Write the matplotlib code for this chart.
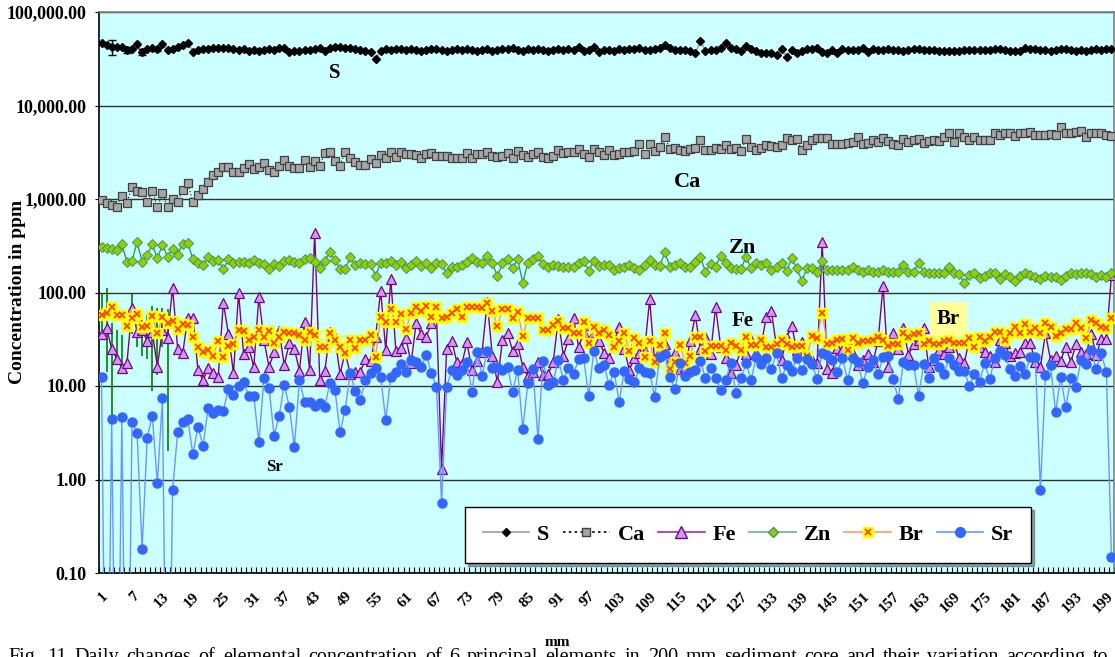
import numpy as np
import matplotlib.pyplot as plt
from matplotlib.lines import Line2D
from matplotlib.legend_handler import HandlerTuple
from matplotlib.ticker import FixedLocator, FuncFormatter, NullLocator

plt.rcParams['font.family'] = ['Liberation Serif', 'DejaVu Serif']

mm = np.arange(1, 201)

S = [47000, 44400, 42500, 42500, 41800, 39300, 39900, 45100, 37600, 39900,
     40800, 39900, 45100, 39300, 39900, 42500, 44400, 46300, 37600, 39300,
     39900, 40200, 40800, 41500, 41500, 40800, 39900, 39300, 39900, 38600,
     39300, 38600, 39300, 39900, 39300, 40800, 41500, 37600, 38600, 38600,
     39300, 39300, 39900, 40800, 38600, 40800, 42500, 42500, 41500, 40800,
     39900, 39300, 38600, 37600, 31200, 38600, 39900, 39300, 39900, 40200,
     39300, 39900, 39300, 38600, 39300, 39900, 40200, 39300, 38600, 39300,
     39900, 39300, 39900, 39300, 38600, 39300, 39900, 38600, 39300, 39900,
     40200, 41500, 39300, 38600, 39900, 39300, 39900, 39300, 38600, 39300,
     39900, 39300, 39900, 39300, 42500, 38600, 39300, 42500, 37600, 39300,
     39300, 38600, 39900, 39300, 40200, 39900, 41500, 39300, 39300, 39900,
     40800, 44400, 41500, 39300, 39300, 39300, 38600, 36100, 49300, 38600,
     39300, 39300, 41500, 46300, 41500, 39900, 38600, 43300, 39900, 38600,
     36100, 36100, 36100, 34700, 39900, 33300, 39300, 36100, 38600, 39900,
     40200, 40800, 37600, 36700, 39300, 36100, 40200, 39300, 39300, 39300,
     41500, 37600, 39900, 39300, 39300, 39900, 39300, 39300, 38600, 39300,
     39900, 40200, 39300, 39300, 39300, 38600, 38600, 38600, 38600, 38600,
     39300, 39300, 39300, 39300, 39300, 39300, 39900, 39900, 39300, 38600,
     38600, 38600, 40800, 39900, 39900, 39300, 39300, 38600, 39300, 39900,
     40200, 39300, 38600, 39300, 38600, 39300, 39900, 39300, 39900, 39900]

Ca = [975, 900, 863, 815, 1085, 912, 1355, 1230, 1180, 930,
      1220, 815, 1150, 830, 990, 930, 1250, 1470, 925, 1105,
      1270, 1520, 1790, 1945, 2210, 2210, 1960, 1960, 2130, 2365,
      2080, 2210, 2440, 2060, 1945, 2240, 2610, 2280, 2170, 2170,
      2610, 2210, 2520, 2280, 3080, 3180, 2520, 2280, 3180, 2720,
      2500, 2330, 2330, 2650, 2410, 2960, 2720, 3210, 2790, 3210,
      3030, 3030, 2960, 2720, 3030, 3130, 2900, 2900, 2900, 2770,
      2720, 2770, 3080, 2770, 3030, 3000, 3210, 2880, 2840, 2880,
      3080, 2720, 3290, 2960, 2840, 3030, 3210, 2840, 2770, 2900,
      3340, 3130, 3160, 3160, 3430, 3030, 2790, 3400, 3210, 2960,
      3340, 2960, 3030, 3160, 3210, 3290, 3880, 3030, 3880, 3290,
      3630, 4570, 3400, 3540, 3340, 3290, 3430, 3480, 4280, 3340,
      3340, 3480, 3430, 3810, 3430, 3480, 3290, 4350, 3630, 3340,
      3480, 3780, 3720, 3630, 3780, 4460, 4280, 4350, 3340, 3780,
      4280, 4460, 4460, 4460, 3880, 3880, 3880, 4010, 4100, 4650,
      3880, 4010, 4280, 4100, 4460, 4210, 3880, 3780, 4350, 4100,
      4280, 4350, 4010, 4210, 4280, 4210, 4570, 5050, 4100, 5050,
      4570, 4280, 4650, 4280, 4280, 4280, 5050, 4830, 5130, 5050,
      4720, 5130, 5050, 5260, 4830, 4830, 4830, 4960, 4830, 5930,
      5050, 5050, 5260, 5390, 4570, 5130, 5050, 5130, 4830, 4720]

Fe = [36, 42, 25, 19.5, 15.7, 17.5, 68, 38, 40, 30,
      38, 16, 40, 33, 113, 25, 22.4, 54, 54, 14.8,
      11.6, 15.5, 13.7, 12.6, 78, 36, 13.7, 100, 21.8, 26,
      16, 90, 31, 16, 23, 39, 16.8, 28.6, 25, 14.6,
      48.8, 14.8, 437, 11.6, 14.6, 37.8, 32.6, 13.5, 23, 13.5,
      14.2, 14.1, 19.5, 18.7, 33.7, 105, 24.3, 139, 23.7, 25.3,
      32.3, 17.5, 47.5, 36, 33.7, 46.8, 60, 1.29, 24.7, 30.3,
      18.1, 17.2, 29.3, 14.8, 18.7, 23.3, 80, 21, 11, 31,
      37, 23.7, 27.9, 16.1, 12.8, 14.2, 18.2, 13.1, 13.4, 18,
      52, 21, 31.6, 53, 26.3, 36.5, 44.9, 38, 30.3, 22.7,
      19.8, 30, 43, 25, 14.8, 20, 22.7, 23.9, 84.5, 18,
      24, 28, 19, 22.7, 15.3, 16.1, 30, 57, 25, 33.7,
      21.8, 70, 26.3, 20, 13.7, 16.8, 24.3, 21.8, 31, 22.7,
      28, 55, 63, 26, 19, 33, 43.8, 24, 29.9, 22,
      19, 17.5, 349, 15.3, 13.9, 25.3, 24.3, 29.9, 22, 16.8,
      19, 22, 18, 30, 118, 15.8, 36.5, 25, 42, 21.5,
      28, 31, 42, 15.8, 19, 24, 22, 26.3, 28.6, 19.8,
      17.5, 32.3, 28, 26.3, 23.3, 20.7, 18.2, 31, 28.6, 20.7,
      22.7, 23.3, 29, 29, 18, 16.1, 36.5, 19, 20.7, 18.7,
      26.3, 18, 27.9, 23.3, 22, 36, 21.5, 31.6, 31.6, 154]

Zn = [309, 302, 290, 285, 328, 214, 219, 344, 214, 252,
      328, 232, 325, 242, 292, 252, 333, 342, 226, 208,
      197, 237, 218, 222, 177, 226, 205, 214, 212, 209,
      222, 205, 201, 180, 203, 193, 218, 222, 211, 208,
      229, 235, 211, 185, 218, 269, 222, 179, 179, 237,
      197, 205, 202, 202, 150, 208, 208, 217, 197, 214,
      181, 197, 219, 192, 205, 181, 205, 202, 160, 189,
      189, 197, 214, 232, 214, 208, 246, 205, 150, 205,
      226, 184, 226, 127, 208, 226, 246, 202, 189, 197,
      192, 189, 189, 189, 205, 219, 171, 219, 192, 197,
      197, 174, 181, 189, 197, 181, 174, 197, 222, 197,
      192, 269, 189, 197, 205, 189, 189, 214, 242, 166,
      202, 189, 248, 208, 181, 177, 177, 242, 181, 205,
      197, 208, 174, 189, 205, 170, 232, 181, 134, 181,
      181, 167, 217, 174, 174, 172, 174, 172, 186, 172,
      167, 174, 167, 167, 174, 167, 167, 167, 197, 167,
      167, 205, 167, 163, 163, 160, 163, 186, 160, 158,
      125, 154, 160, 142, 150, 160, 163, 138, 158, 146,
      134, 150, 160, 154, 146, 138, 150, 146, 148, 137,
      150, 163, 158, 163, 163, 158, 146, 154, 148, 163]

Br = [57, 61, 69.5, 57, 58, 43.8, 53, 58.5, 43, 43.8,
      55.5, 36.5, 54.8, 47.5, 50, 40.4, 46, 44.9, 33.2, 26,
      23.3, 24.3, 21.1, 30, 20.6, 26.8, 28, 39.4, 38.7, 31,
      33.7, 39.7, 33.2, 39, 29, 33.2, 38, 36.5, 37, 35,
      31, 38, 35, 26.3, 26.3, 37, 31, 26, 22.7, 31,
      25.7, 31, 31, 34.8, 20.3, 54.3, 48.7, 66, 48.7, 58.9,
      40.4, 61, 69.5, 64, 71.8, 54.3, 70.5, 53, 54.3, 60,
      66, 54.3, 70.5, 69.5, 69.5, 67.8, 77.8, 64, 43.8, 66,
      66, 53.8, 62.3, 34.3, 53, 53, 53, 39.7, 39.7, 44.9,
      50, 41.4, 42, 37, 37, 48.7, 29, 43, 36.5, 39.7,
      35, 26.3, 30, 37, 23.9, 32.9, 28.6, 20.3, 30, 18,
      27.4, 36.5, 15.3, 18.2, 27.4, 17.5, 21, 33.2, 33.7, 23.9,
      26.6, 26.6, 26.6, 24.3, 29, 26.6, 24.3, 33.7, 27.4, 27.4,
      31, 26.3, 26.3, 28, 31, 28, 26, 26.6, 26.6, 20.7,
      34.3, 32.5, 61, 28, 29, 31, 31.6, 24.3, 32.5, 29,
      30, 30, 31, 33.2, 31, 26.6, 28, 28, 36.5, 33.2,
      36, 36.5, 28, 30, 28, 28, 30, 31, 29, 29,
      29, 32.5, 26.3, 33.2, 30, 33.2, 38, 38, 31, 36.5,
      43, 37, 46, 38, 41.4, 36.5, 47.5, 43, 34.3, 37,
      40.4, 40.4, 46.8, 41.4, 32.5, 50.8, 47.5, 43, 41.4, 53]

# readings below detection are stored as 1e-4 and fall off the log axis
Sr = [12.4, 1e-4, 4.43, 1e-4, 4.7, 1e-4, 4.1, 3.16, 0.18, 2.8,
      4.8, 0.91, 7.4, 1e-4, 0.77, 3.2, 4.15, 4.4, 1.86, 3.67,
      2.28, 5.86, 5.1, 5.5, 5.45, 9.4, 7.95, 10, 11.1, 7.8,
      7.8, 2.5, 12.1, 9.6, 2.94, 4.8, 10.3, 6.0, 2.24, 11.6,
      6.8, 6.8, 6.1, 6.6, 6.0, 10.8, 9.05, 3.2, 5.6, 13.7,
      8.85, 7.1, 11.6, 13.7, 15.5, 12.6, 4.33, 12.6, 14.2, 17.2,
      14.2, 19, 18.2, 16.1, 21.5, 13.7, 9.7, 0.56, 9.7, 14.8,
      13.1, 14.8, 17.9, 8.7, 22.9, 12.8, 23.9, 15.5, 16.1, 14.8,
      16.1, 8.7, 14.8, 3.47, 10.7, 15.1, 2.71, 18.5, 10.3, 11.1,
      19, 11.6, 15.5, 13.4, 19.3, 19.8, 7.8, 23.9, 15.5, 16.8,
      10.3, 14.2, 6.7, 14.6, 11.8, 11.1, 15.5, 14.2, 13.9, 7.7,
      20.6, 22, 12.6, 9.2, 17.8, 12.9, 14.2, 14.8, 18.7, 12.1,
      15.7, 12.1, 9.05, 11.6, 17.8, 8.5, 12.1, 17.5, 11.6, 20.6,
      17.1, 19.8, 15.1, 22.7, 12.1, 16.8, 14.5, 19.8, 14.8, 19.3,
      17.2, 11.8, 22.7, 21.5, 19, 14, 19.8, 11.6, 19.8, 18.2,
      10.7, 16.1, 19, 13.4, 20.6, 21.1, 11.9, 7.2, 17.9, 16.8,
      16.8, 7.8, 17.2, 12.1, 20.1, 15.8, 13.3, 20.1, 16.8, 14.5,
      14.5, 10, 13.4, 11, 17.5, 11.8, 19.8, 23.7, 21.5, 15.1,
      12.8, 16.4, 13.4, 20.6, 20.3, 0.77, 13.1, 16.6, 5.24, 12.6,
      5.9, 12.1, 9.85, 19, 17.2, 24.3, 15.1, 22.4, 14, 0.147]

# error bars on the first sulphur readings
S_err_mm = [3, 6, 9, 12]
S_err = [7500, 3200, 2500, 1500]

# spread of the first trace-element readings (green bars)
spread_mm = [1, 2, 3, 4, 5, 7, 8, 9, 10, 11, 12, 13, 14]
spread_hi = [96, 113, 47, 40, 35, 96, 64, 66, 57, 72, 68, 68, 66]
spread_lo = [40, 14, 4.4, 20, 15, 36, 26, 21, 19.5, 8.8, 13, 26, 2.0]

caption = ('Fig. 11 Daily changes of elemental concentration of 6 principal '
           'elements in 200 mm sediment core and their variation according to')

fig = plt.figure(figsize=(11.15, 6.57), dpi=100)
ax = fig.add_axes([99 / 1115, 84 / 657, 1015 / 1115, 561 / 657])
ax.set_facecolor('#CCFFFF')
ax.set_yscale('log')
ax.set_ylim(0.1, 100000)
ax.set_xlim(0.5, 200.5)

ax.yaxis.grid(True, which='major', color='#303030', lw=1.0)
ax.set_axisbelow(True)

ax.vlines(spread_mm, spread_lo, spread_hi, color='#008000', lw=1.2, zorder=2)

ax.plot(mm, S, color='#A0A0A0', lw=1, marker='D', ms=4,
        mfc='black', mec='black', zorder=3)
S_at = [S[i - 1] for i in S_err_mm]
ax.errorbar(S_err_mm, S_at, yerr=S_err, fmt='none', ecolor='black',
            elinewidth=1, capsize=3, zorder=3)
ax.plot(mm, Ca, color='black', lw=0.8, ls=(0, (1, 2)), marker='s',
        ms=6, mfc='#A6A6A6', mec='#404040', mew=0.9, zorder=3)
ax.plot(mm, Fe, color='#800080', lw=1, marker='^', ms=7,
        mfc='#CC99FF', mec='#800080', mew=0.9, zorder=4)
ax.plot(mm, Zn, color='#339966', lw=1, marker='D', ms=5,
        mfc='#99CC00', mec='#339966', mew=0.7, zorder=4)
ax.plot(mm, Br, color='#FF9933', lw=1, marker='s', ms=6.5,
        mfc='#FFFF00', mec='#FFFF00', zorder=5)
ax.plot(mm, Br, ls='none', marker='x', ms=4, mec='#FF4400',
        mew=1.3, zorder=5)
ax.plot(mm, Sr, color='#6699FF', lw=1, marker='o', ms=6.5,
        mfc='#3366FF', mec='#3366FF', zorder=6)

# axes frame
for side in ['left', 'bottom']:
    ax.spines[side].set_color('black')
    ax.spines[side].set_linewidth(1.2)
for side in ['top', 'right']:
    ax.spines[side].set_color('#808080')
    ax.spines[side].set_linewidth(1.2)

ax.yaxis.set_major_locator(FixedLocator([0.1, 1, 10, 100, 1000, 10000, 100000]))
ax.yaxis.set_minor_locator(NullLocator())
ax.yaxis.set_major_formatter(FuncFormatter(lambda v, p: f'{v:,.2f}'))
ax.tick_params(axis='y', which='major', direction='out', length=3, pad=6,
               labelsize=13)
for lab in ax.get_yticklabels():
    lab.set_fontweight('bold')

ax.set_xticks(range(1, 201, 6))
ax.set_xticks(np.arange(0.5, 201, 1), minor=True)
ax.tick_params(axis='x', which='major', length=0, pad=12, labelsize=11)
ax.tick_params(axis='x', which='minor', direction='in', length=4.5, width=0.8)
for lab in ax.get_xticklabels():
    lab.set_rotation(45)
    lab.set_ha('right')
    lab.set_va('top')
    lab.set_rotation_mode('anchor')
    lab.set_fontweight('bold')

# series names inside the plot
lbl = dict(transform=ax.transAxes, ha='center', va='center', fontweight='bold')
ax.text(0.2325, 0.891, 'S', fontsize=15, **lbl)
ax.text(0.580, 0.697, 'Ca', fontsize=16, **lbl)
ax.text(0.6335, 0.579, 'Zn', fontsize=16, **lbl)
ax.text(0.6345, 0.449, 'Fe', fontsize=15, **lbl)
ax.text(0.8365, 0.453, 'Br', fontsize=15,
        bbox=dict(facecolor='#FFFF99', edgecolor='none', pad=5), **lbl)
ax.text(0.173, 0.189, 'Sr', fontsize=12, **lbl)

# legend
h_s = Line2D([], [], color='#A0A0A0', lw=1.2, marker='D', ms=4,
             mfc='black', mec='black')
h_ca = Line2D([], [], color='black', lw=1.2, ls=(0, (1.5, 2)), marker='s',
              ms=6, mfc='#A6A6A6', mec='#404040')
h_fe = Line2D([], [], color='#993399', lw=1.2, marker='^', ms=8,
              mfc='#CC99FF', mec='#800080')
h_zn = Line2D([], [], color='#66B28C', lw=1.2, marker='D', ms=5.5,
              mfc='#99CC00', mec='#339966')
h_br_a = Line2D([], [], color='#FF9966', lw=1.2, marker='s', ms=6.5,
                mfc='#FFFF00', mec='#FFFF00')
h_br_b = Line2D([], [], ls='none', marker='x', ms=4, mec='#FF4400', mew=1.3)
h_sr = Line2D([], [], color='#6699FF', lw=1.2, marker='o', ms=7,
              mfc='#3366FF', mec='#3366FF')
leg = ax.legend([h_s, h_ca, h_fe, h_zn, (h_br_a, h_br_b), h_sr],
                ['S', 'Ca', 'Fe', 'Zn', 'Br', 'Sr'],
                handler_map={tuple: HandlerTuple(ndivide=1)},
                ncol=6, loc='lower left', bbox_to_anchor=(0.3606, 0.0178),
                borderaxespad=0,
                prop={'weight': 'bold', 'size': 16}, frameon=True,
                fancybox=False, shadow=True, edgecolor='black',
                framealpha=1, handlelength=2.1, handletextpad=0.35,
                columnspacing=0.6, borderpad=0.8)
leg.get_frame().set_linewidth(1.0)
leg.set_zorder(10)

fig.text(18 / 1115, 1 - 292 / 657, 'Concentration in ppm', rotation=90,
         ha='center', va='center', fontweight='bold', fontsize=14)
fig.text(557 / 1115, 1 - 642 / 657, 'mm', ha='center', va='center',
         fontweight='bold', fontsize=11)

# caption, spread out word by word across the page width
words = caption.split()
cap_texts = [fig.text(0, -5 / 657, w, ha='left', va='baseline', fontsize=14.5)
             for w in words]
renderer = fig.canvas.get_renderer()
widths = [t.get_window_extent(renderer).width for t in cap_texts]
gap = (1108 - 8 - sum(widths)) / (len(words) - 1)
xpos = 8
for t, w in zip(cap_texts, widths):
    t.set_x(xpos / 1115)
    xpos += w + gap

fig.savefig('out.png', dpi=100, facecolor='white')
